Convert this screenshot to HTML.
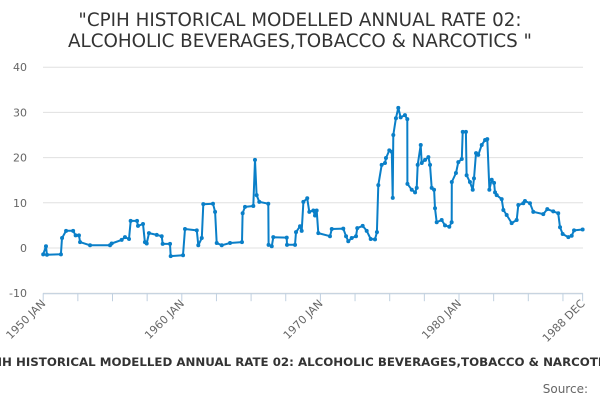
<!DOCTYPE html>
<html><head><meta charset="utf-8">
<style>
body{margin:0;width:600px;height:400px;overflow:hidden;background:#fff;font-family:"DejaVu Sans","Liberation Sans",sans-serif;position:relative}
.t{position:absolute;left:0;width:600px;text-align:center;color:#333;font-size:18.3px;line-height:21px}
.bot{position:absolute;left:300px;top:355px;transform:translateX(-50%);white-space:nowrap;font-weight:bold;font-size:11.8px;color:#333}
.src{position:absolute;right:12px;top:382px;font-size:12px;color:#666}
svg text{font-family:"DejaVu Sans","Liberation Sans",sans-serif}
</style></head><body>
<div class="t" style="top:10px">"CPIH HISTORICAL MODELLED ANNUAL RATE 02:<br>ALCOHOLIC BEVERAGES,TOBACCO &amp; NARCOTICS "</div>
<svg id="chart" width="600" height="400" style="position:absolute;left:0;top:0"></svg>
<div class="bot">CPIH HISTORICAL MODELLED ANNUAL RATE 02: ALCOHOLIC BEVERAGES,TOBACCO &amp; NARCOTICS</div>
<div class="src">Source:</div>
<script>
const yTicks=[40,30,20,10,0,-10];
const xLabels=["1950 JAN","1960 JAN","1970 JAN","1980 JAN","1988 DEC"];
const xLabelYears=[0,10,20,30,38.92];
const yearOffset=[0,0.2,0.27,1.28,1.36,1.65,2.16,2.34,2.58,2.66,3.38,4.82,4.94,5.66,5.9,6.19,6.31,6.77,6.84,7.2,7.34,7.47,7.63,8.19,8.55,8.62,9.15,9.2,10.09,10.23,11.08,11.19,11.44,11.55,12.25,12.4,12.52,12.88,13.48,14.34,14.39,14.56,15.16,15.28,15.4,15.59,16.24,16.26,16.49,16.6,17.57,17.59,18.17,18.24,18.53,18.65,18.77,19.05,19.2,19.49,19.61,19.73,19.85,20.69,20.82,21.65,21.85,22.01,22.26,22.57,22.66,23.05,23.34,23.63,23.94,24.08,24.18,24.42,24.66,24.73,24.97,25.15,25.22,25.26,25.45,25.62,25.79,26.1,26.27,26.28,26.59,26.83,26.95,27.02,27.24,27.31,27.55,27.79,27.91,28.03,28.2,28.27,28.39,28.75,28.99,29.3,29.47,29.48,29.78,29.95,30.2,30.27,30.5,30.55,30.79,30.99,31.08,31.23,31.39,31.64,31.88,32.04,32.19,32.36,32.53,32.6,32.72,33.08,33.2,33.44,33.8,34.16,34.28,34.64,34.76,35.12,35.36,36.08,36.37,36.8,37.16,37.29,37.48,37.89,38.13,38.3,38.92];
const rateValues=[-1.4,0.4,-1.5,-1.4,2.2,3.8,3.8,2.8,2.8,1.3,0.6,0.6,1.0,1.8,2.4,2.0,6.0,6.0,4.9,5.3,1.3,1.0,3.3,2.9,2.6,0.9,0.9,-1.8,-1.6,4.2,3.9,0.6,2.2,9.7,9.8,8.0,1.1,0.6,1.1,1.3,7.7,9.1,9.3,19.5,11.7,10.2,9.8,0.7,0.4,2.4,2.3,0.7,0.7,3.5,4.8,3.8,10.2,11.0,8.0,8.3,7.2,8.3,3.3,2.6,4.2,4.3,2.6,1.5,2.2,2.6,4.4,4.9,3.8,2.0,1.9,3.5,13.9,18.4,18.8,19.9,21.6,21.3,11.1,25.0,28.7,31.0,28.9,29.4,28.5,14.2,12.9,12.3,13.3,18.4,22.8,18.8,19.5,20.1,18.4,13.3,12.9,8.8,5.7,6.2,5.0,4.7,5.7,14.6,16.6,19.0,19.7,25.7,25.7,16.1,14.6,12.9,15.4,21.0,20.6,22.8,23.9,24.1,12.9,15.1,14.4,12.3,11.7,10.8,8.4,7.3,5.5,6.2,9.5,9.9,10.4,9.9,8.0,7.5,8.6,8.1,7.7,4.6,3.1,2.4,2.7,3.9,4.1];
const NS="http://www.w3.org/2000/svg";
const svg=document.getElementById('chart');
const X=o=>43.2+o*13.86;
const Y=v=>248-v*4.52;
function mk(t,a){const e=document.createElementNS(NS,t);for(const k in a)e.setAttribute(k,a[k]);svg.appendChild(e);return e;}
yTicks.forEach(v=>{
  const g=mk('line',{x1:43,x2:583,y1:Y(v),y2:Y(v),stroke:'#e0e0e0','stroke-width':1});
  
  
  const t=mk('text',{x:27,y:Y(v)+4,'text-anchor':'end','font-size':11,fill:'#666'});
  t.textContent=v;
  
  
});
const ax=mk('line',{x1:43,x2:583,y1:Y(-10)+0.5,y2:Y(-10)+0.5,stroke:'#c0d0e0','stroke-width':1});


for(let o=0;o<=38.92;o+=2.5){
  const tk=mk('line',{x1:X(o),x2:X(o),y1:Y(-10),y2:Y(-10)+8,stroke:'#c0d0e0'});
  
  
}
const endTick=mk('line',{x1:X(38.92),x2:X(38.92),y1:Y(-10),y2:Y(-10)+8,stroke:'#c0d0e0'});


xLabels.forEach((l,i)=>{
  const x=X(xLabelYears[i])+3,y=Y(-10)+11;
  const t=mk('text',{x:x,y:y,'text-anchor':'end','font-size':11,fill:'#666',transform:`rotate(-45 ${x} ${y})`});
  t.textContent=l;
  
  
});
const pts=yearOffset.map((o,i)=>X(o).toFixed(1)+','+Y(rateValues[i]).toFixed(1)).join(' ');
const pl=mk('polyline',{points:pts,fill:'none',stroke:'#0a7fc8','stroke-width':2,'stroke-linejoin':'round'});


yearOffset.forEach((o,i)=>{
  const c=mk('circle',{cx:X(o),cy:Y(rateValues[i]),r:2,fill:'#0a7fc8'});
  
  
});
</script>
</body></html>
